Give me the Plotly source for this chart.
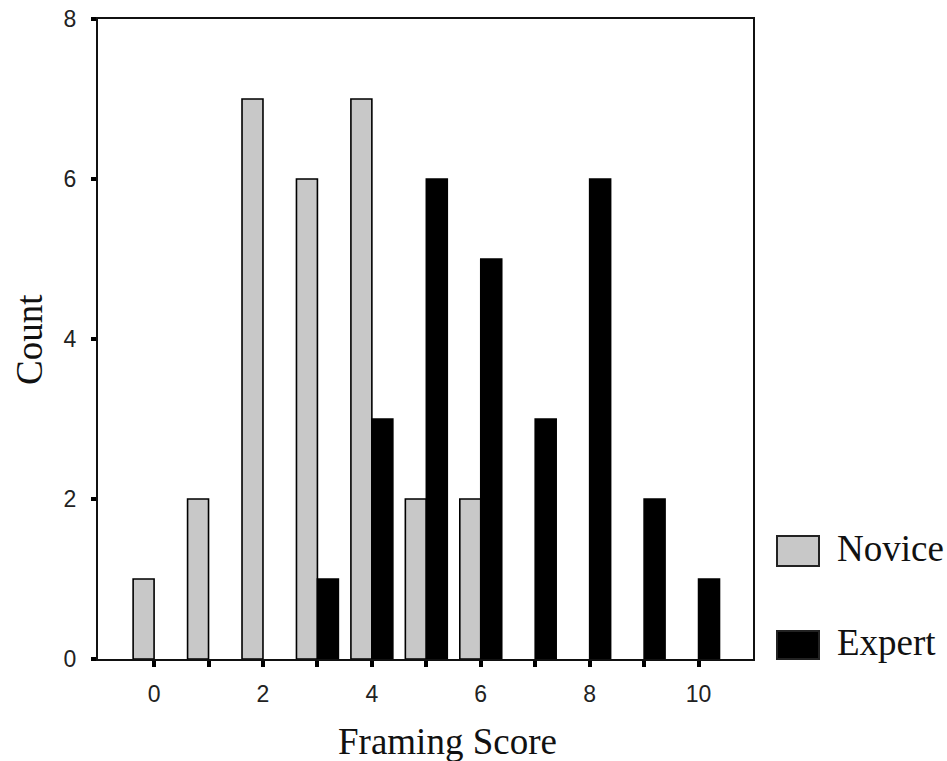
import plotly.graph_objects as go

scores = list(range(11))
novice = [1, 2, 7, 6, 7, 2, 2, 0, 0, 0, 0]
expert = [0, 0, 0, 1, 3, 6, 5, 3, 6, 2, 1]
x_tick_text = ["0", "", "2", "", "4", "", "6", "", "8", "", "10"]
y_ticks = [0, 2, 4, 6, 8]

W, H = 947, 761
# plot area in page pixels
L, R, T, B = 98, 753, 19, 659

def px(x):
    return (x - L) / (R - L)

def py(y):
    return (B - y) / (B - T)

def nz(vals):
    return [v if v else None for v in vals]

fig = go.Figure()
fig.add_trace(go.Bar(x=scores, y=nz(novice), name="Novice",
                     marker=dict(color="#c8c8c8", line=dict(color="#000", width=1.6))))
fig.add_trace(go.Bar(x=scores, y=nz(expert), name="Expert",
                     marker=dict(color="#000", line=dict(color="#000", width=1.6))))

fig.update_layout(
    width=W, height=H,
    margin=dict(l=L, r=W - R, t=T, b=H - B, autoexpand=False),
    paper_bgcolor="white", plot_bgcolor="white",
    barmode="group", bargap=0.23, bargroupgap=0,
    showlegend=False,
    font=dict(family="Liberation Sans, Arial", size=23, color="#222"),
)
fig.update_xaxes(range=[-1.03, 11.0], tickvals=scores, ticktext=x_tick_text,
                 tickfont=dict(size=23, color="#222"), automargin=False,
                 showline=True, linecolor="#111", linewidth=2, mirror=True,
                 ticks="outside", ticklen=6, tickwidth=4, tickcolor="#000",
                 showgrid=False, zeroline=False, ticklabelstandoff=7)
fig.update_yaxes(range=[0, 8], tickvals=y_ticks,
                 tickfont=dict(size=23, color="#222"), automargin=False,
                 showline=True, linecolor="#111", linewidth=2, mirror=True,
                 ticks="outside", ticklen=5, tickwidth=4, tickcolor="#000",
                 showgrid=False, zeroline=False, ticklabelstandoff=10)

serif = dict(family="Liberation Serif, Times New Roman", size=37, color="#111")
fig.add_annotation(text="Framing Score", xref="paper", yref="paper",
                   x=px(447), y=py(741), showarrow=False, font=serif,
                   xanchor="center", yanchor="middle")
fig.add_annotation(text="Count", xref="paper", yref="paper",
                   x=px(29), y=py(340), showarrow=False, font=serif, textangle=-90,
                   xanchor="center", yanchor="middle")

# legend
for name, color, y0, y1, ty in [("Novice", "#c8c8c8", 536, 566, 548),
                                ("Expert", "#000", 631, 659, 642)]:
    fig.add_shape(type="rect", xref="paper", yref="paper",
                  x0=px(777), x1=px(819), y0=py(y1), y1=py(y0),
                  fillcolor=color, line=dict(color="#222", width=2))
    fig.add_annotation(text=name, xref="paper", yref="paper",
                       x=px(835), y=py(ty), showarrow=False, font=serif,
                       xanchor="left", yanchor="middle")

fig.write_html("out.html", config={"displayModeBar": False},
               post_script="document.body.style.margin='0';document.body.style.overflow='hidden';")
